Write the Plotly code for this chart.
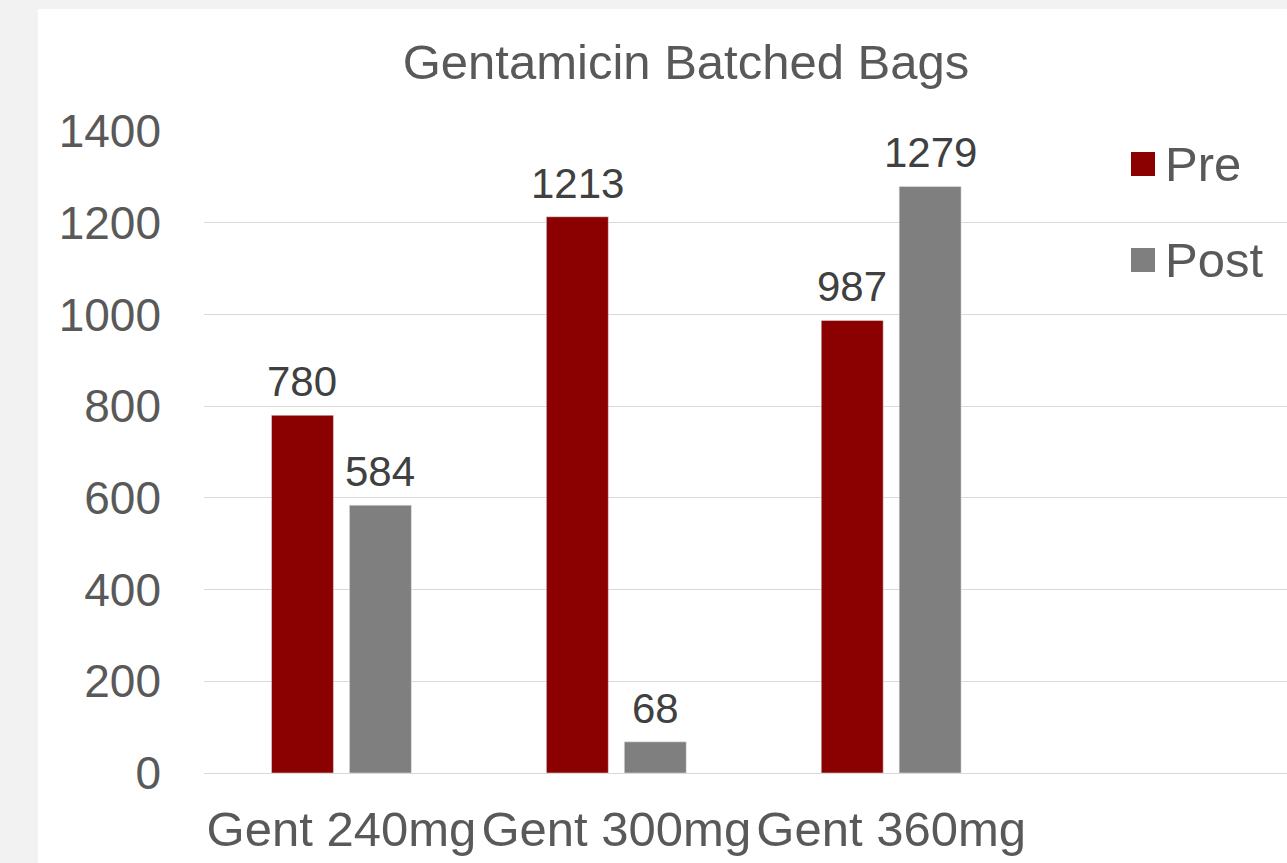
import plotly.graph_objects as go

categories = ["Gent 240mg", "Gent 300mg", "Gent 360mg"]
pre_values = [780, 1213, 987]
post_values = [584, 68, 1279]
series_names = ["Pre", "Post"]
series_colors = ["#8B0000", "#7F7F7F"]
y_ticks = [0, 200, 400, 600, 800, 1000, 1200, 1400]

W, H = 1287, 863
L, R, T, B = 204, 0, 131, 90
pw, ph = W - L - R, H - T - B

def px_x(x):
    return (x - L) / pw

def px_y(y):
    return (H - B - y) / ph

FONT = "Arial, Liberation Sans, sans-serif"
TXT = "#595959"

fig = go.Figure()
for name, vals, col in zip(series_names, [pre_values, post_values], series_colors):
    fig.add_trace(go.Bar(
        x=categories, y=vals, name=name, marker_color=col,
        cliponaxis=False, showlegend=False,
    ))

shapes = [dict(type="rect", xref="paper", yref="paper",
               x0=px_x(38), x1=1.0, y0=px_y(H), y1=px_y(9),
               fillcolor="white", line_width=0, layer="below")]
annotations = []
# data labels above each bar (offset of +-39 px = half the grouped bar slot)
for vals, dx in zip([pre_values, post_values], [-39, 39]):
    for cat, v in zip(categories, vals):
        annotations.append(dict(text=str(v), x=cat, y=v, xref="x", yref="y",
                                xshift=dx, yshift=8, xanchor="center", yanchor="bottom",
                                showarrow=False,
                                font=dict(family=FONT, size=42, color="#404040")))
legend_y = [164, 260]
for name, col, cy in zip(series_names, series_colors, legend_y):
    shapes.append(dict(type="rect", xref="paper", yref="paper",
                       x0=px_x(1131), x1=px_x(1155), y0=px_y(cy + 12), y1=px_y(cy - 12),
                       fillcolor=col, line_width=0))
    annotations.append(dict(text=name, xref="paper", yref="paper",
                            x=px_x(1163), y=px_y(cy), xanchor="left", yanchor="middle",
                            showarrow=False, font=dict(family=FONT, size=49, color=TXT)))

fig.update_layout(
    width=W, height=H,
    margin=dict(l=L, r=R, t=T, b=B, autoexpand=False),
    paper_bgcolor="#F2F2F2", plot_bgcolor="white",
    barmode="group", bargap=0.433, bargroupgap=0.205,
    title=dict(text="Gentamicin Batched Bags", x=686 / W, xref="container", xanchor="center",
               y=1 - 62 / H, yref="container", yanchor="middle",
               font=dict(family=FONT, size=49, color=TXT)),
    xaxis=dict(type="category", range=[-0.5, 3.44], showgrid=False, showline=False,
               zeroline=False, ticks="", ticklabelstandoff=23,
               tickfont=dict(family=FONT, size=49, color=TXT)),
    yaxis=dict(range=[0, 1400], tickvals=y_ticks, showgrid=True, gridcolor="#D9D9D9",
               gridwidth=1.3, zeroline=True, zerolinecolor="#D9D9D9", zerolinewidth=1.3,
               showline=False, ticks="", ticklabelstandoff=42,
               tickfont=dict(family=FONT, size=46, color=TXT)),
    shapes=shapes, annotations=annotations,
)

fig.write_html("out.html", config={"displayModeBar": False},
               post_script="document.body.style.margin='0';")
